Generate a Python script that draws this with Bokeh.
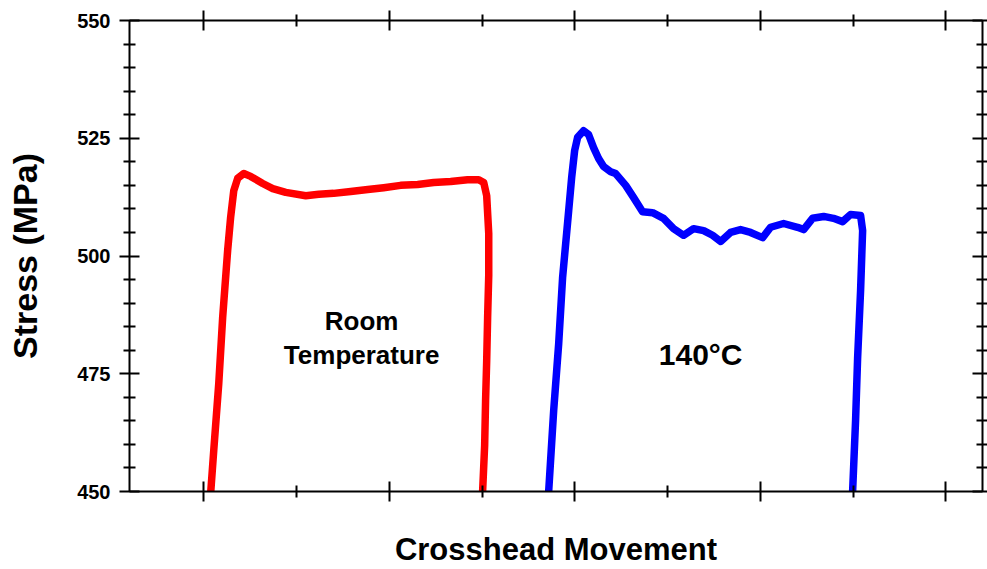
from bokeh.plotting import figure
from bokeh.models import (LinearAxis, FixedTicker, Range1d, ColumnDataSource,
                          CustomLabelingPolicy)
from bokeh.core.properties import value
from bokeh.embed import file_html
from bokeh.resources import INLINE

# ---- data ----
room_x = [1.038, 1.054, 1.081, 1.102, 1.129, 1.145, 1.162, 1.183, 1.216, 1.253, 1.318, 1.372,
          1.442, 1.550, 1.620, 1.700, 1.792, 1.884, 1.970, 2.061, 2.153, 2.239, 2.331, 2.422,
          2.482, 2.509, 2.525, 2.536, 2.536, 2.530, 2.525, 2.519, 2.514, 2.503]
room_y = [450.0, 458.7, 472.9, 486.9, 501.2, 508.2, 513.9, 516.5, 517.5, 516.9, 515.4, 514.3,
          513.5, 512.8, 513.1, 513.3, 513.7, 514.1, 514.5, 515.0, 515.2, 515.6, 515.8, 516.2,
          516.2, 515.6, 512.8, 504.8, 495.9, 486.9, 477.8, 469.3, 459.8, 450.0]

hot_x = [2.859, 2.886, 2.913, 2.934, 2.967, 2.983, 2.999, 3.015, 3.047, 3.074, 3.101, 3.128,
         3.155, 3.193, 3.220, 3.274, 3.317, 3.365, 3.419, 3.478, 3.532, 3.586, 3.640, 3.694,
         3.742, 3.786, 3.839, 3.893, 3.947, 4.012, 4.055, 4.125, 4.200, 4.233, 4.281, 4.341,
         4.394, 4.443, 4.486, 4.540, 4.551, 4.540, 4.524, 4.513, 4.497]
hot_y = [450.0, 467.2, 481.4, 495.4, 509.7, 516.7, 522.4, 525.2, 526.6, 525.8, 523.0, 520.7,
         519.0, 517.9, 517.5, 515.0, 512.4, 509.4, 509.2, 508.0, 505.8, 504.4, 505.8, 505.4,
         504.4, 503.1, 505.0, 505.6, 505.0, 503.9, 506.1, 506.9, 506.1, 505.6, 508.0, 508.4,
         508.0, 507.3, 508.8, 508.6, 505.4, 492.7, 478.4, 465.1, 450.0]

y_ticks = [450, 475, 500, 525, 550]
y_minor = [455, 460, 465, 470, 480, 485, 490, 495, 505, 510, 515, 520, 530, 535, 540, 545]
x_major = [1, 2, 3, 4, 5]
x_minor = [1.5, 2.5, 3.5, 4.5]

room_text = ["Room", "Temperature"]
room_text_x = [1.851, 1.851]
room_text_y = [486.1, 478.9]
hot_text = ["140\u00b0C"]
hot_text_x = [3.678]
hot_text_y = [479.1]

x_title = "Crosshead Movement"
y_title = "Stress (MPa)"

X_START, X_END = 0.6, 5.197
Y_START, Y_END = 450, 550

FONT = "Liberation Sans"

p = figure(width=987, height=569, output_backend="svg", toolbar_location=None,
           x_range=Range1d(X_START, X_END), y_range=Range1d(Y_START, Y_END),
           min_border_left=129, min_border_right=5, min_border_top=20, min_border_bottom=78,
           x_axis_location=None, y_axis_location=None)
p.xgrid.visible = False
p.ygrid.visible = False
p.outline_line_color = None
p.background_fill_color = "white"
p.border_fill_color = "white"


def style(ax, tick_out, minor_out, labels):
    ax.axis_line_width = 2
    ax.axis_line_color = "black"
    ax.major_tick_line_width = 2
    ax.minor_tick_line_width = 2
    ax.major_tick_line_color = "black"
    ax.minor_tick_line_color = "black"
    ax.major_tick_in = 10
    ax.major_tick_out = tick_out
    ax.minor_tick_in = 6
    ax.minor_tick_out = minor_out
    if not labels:
        ax.major_label_text_font_size = "0px"
        ax.major_label_standoff = 0
        ax.major_label_policy = CustomLabelingPolicy(code="return []")


yt = FixedTicker(ticks=y_ticks, minor_ticks=y_minor)
xt = FixedTicker(ticks=x_major, minor_ticks=x_minor)

left = LinearAxis(ticker=yt, axis_label=y_title)
style(left, 10, 6, True)
left.major_label_text_font = FONT
left.major_label_text_font_style = "bold"
left.major_label_text_font_size = "20px"
left.major_label_text_color = "black"
left.major_label_standoff = 9
left.axis_label_text_font = FONT
left.axis_label_text_font_style = "bold"
left.axis_label_text_font_size = "34px"
left.axis_label_text_color = "black"
left.axis_label_standoff = 30
p.add_layout(left, "left")

bottom = LinearAxis(ticker=xt, axis_label=x_title)
style(bottom, 10, 6, False)
bottom.axis_label_text_font = FONT
bottom.axis_label_text_font_style = "bold"
bottom.axis_label_text_font_size = "31px"
bottom.axis_label_text_color = "black"
bottom.axis_label_standoff = 30
p.add_layout(bottom, "below")

top = LinearAxis(ticker=xt)
style(top, 10, 6, False)
p.add_layout(top, "above")

right = LinearAxis(ticker=yt)
style(right, 5, 5, False)
p.add_layout(right, "right")

p.line(room_x, room_y, line_color="#ff0000", line_width=7.5, line_join="round", line_cap="round")
p.line(hot_x, hot_y, line_color="#0000ff", line_width=7.5, line_join="round", line_cap="round")

src1 = ColumnDataSource(dict(x=room_text_x, y=room_text_y, t=room_text))
p.text(x="x", y="y", text="t", source=src1, text_font=value(FONT), text_font_style="bold",
       text_font_size="26px", text_align="center", text_baseline="middle", text_color="black")
src2 = ColumnDataSource(dict(x=hot_text_x, y=hot_text_y, t=hot_text))
p.text(x="x", y="y", text="t", source=src2, text_font=value(FONT), text_font_style="bold",
       text_font_size="30px", text_align="center", text_baseline="middle", text_color="black")

open("out.html", "w").write(file_html(p, INLINE))
